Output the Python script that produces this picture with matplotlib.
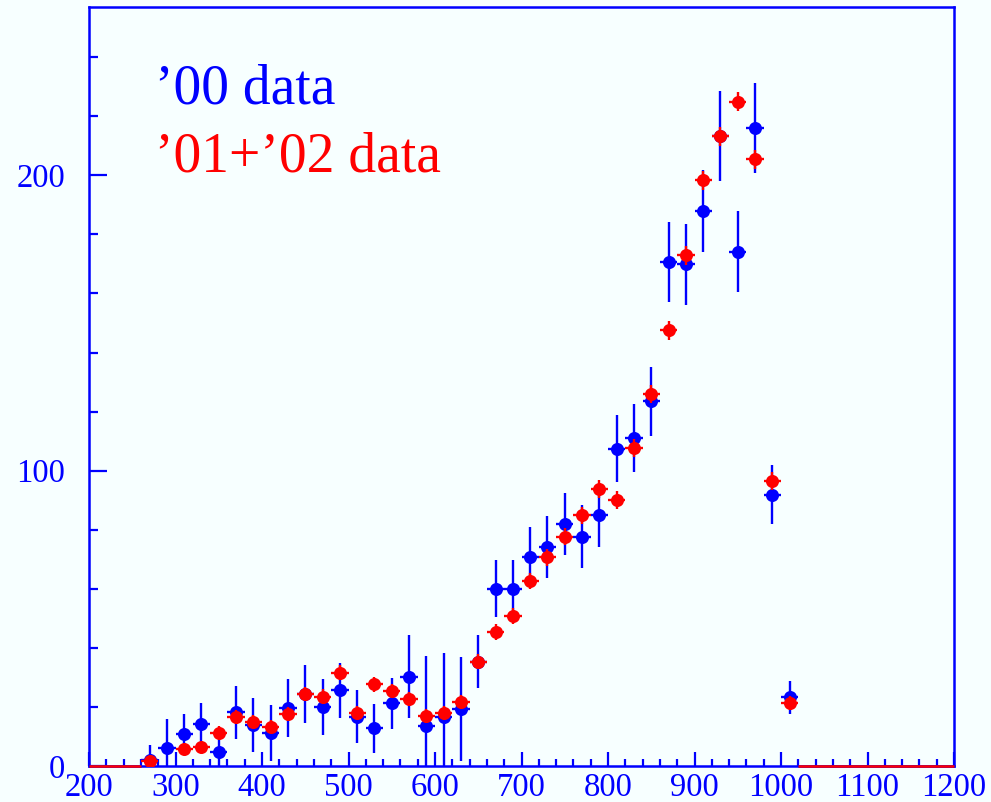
import numpy as np
import matplotlib
matplotlib.use("Agg")
import matplotlib.pyplot as plt
from matplotlib.ticker import MultipleLocator

# bin centres (20 wide) that carry entries
centres = np.arange(270, 1011, 20)

# '00 sample
blue_val = [2.0, 6.2, 10.8, 14.1, 4.8, 18.2, 13.9, 11.1, 19.5, 24.4,
            20.1, 25.7, 16.7, 12.7, 21.2, 30.2, 13.6, 16.7, 19.3, 35.3,
            60.1, 59.8, 70.8, 74.2, 82.1, 77.6, 84.9, 107.4, 111.1, 123.5,
            170.7, 169.9, 187.9, 213.2, 174.2, 216.1, 91.9, 23.2]
blue_err = [5.0, 9.7, 6.7, 7.3, 6.5, 8.9, 9.2, 9.5, 9.8, 9.8,
            9.5, 9.3, 9.0, 8.3, 8.7, 14.1, 23.6, 21.7, 17.5, 9.0,
            9.8, 10.0, 10.2, 10.4, 10.5, 10.7, 10.7, 11.3, 11.4, 11.6,
            13.5, 13.7, 13.8, 15.2, 13.6, 15.2, 10.0, 5.7]

# '01+'02 sample
red_val = [1.8, np.nan, 5.7, 6.3, 11.3, 16.7, 15.0, 13.3, 17.5, 24.4,
           23.5, 31.6, 18.0, 27.6, 25.4, 22.7, 17.0, 18.0, 21.8, 35.3,
           45.4, 50.8, 62.6, 70.6, 77.6, 84.9, 93.9, 90.0, 107.7, 125.9,
           147.5, 172.9, 198.3, 213.2, 225.0, 205.4, 96.5, 21.2]
red_err = [1.5, 0.0, 1.7, 1.8, 2.2, 2.4, 2.3, 2.2, 2.4, 2.5,
           2.5, 2.6, 2.3, 2.5, 2.5, 2.4, 2.3, 2.3, 2.4, 2.6,
           2.7, 2.7, 2.8, 2.8, 2.9, 2.9, 3.0, 3.0, 3.0, 3.1,
           3.1, 3.2, 3.2, 3.3, 3.3, 3.3, 3.0, 2.4]

half_bin = 10
x_lo, x_hi = 200, 1200

BG = "#f7ffff"
BLUE = "#0000ff"
RED = "#ff0000"

plt.rcParams["font.family"] = ["Liberation Serif", "DejaVu Serif"]

fig = plt.figure(figsize=(9.91, 8.02), dpi=100, facecolor=BG)
ax = fig.add_axes([89 / 991, 1 - 766 / 802, (954 - 89) / 991, (766 - 7) / 802])
ax.set_facecolor(BG)

# empty bins drawn as flat segments at zero
for col in (BLUE, RED):
    ax.hlines(0, x_lo, centres[0] - half_bin, color=col, lw=1.8, zorder=4,
              clip_on=False)
    ax.hlines(0, centres[-1] + half_bin, x_hi, color=col, lw=1.8, zorder=4,
              clip_on=False)

ax.errorbar(centres, blue_val, xerr=half_bin, yerr=blue_err, fmt="o",
            color=BLUE, ms=9.4, mew=0, elinewidth=1.7, capsize=0, zorder=3)
ax.errorbar(centres, red_val, xerr=half_bin, yerr=red_err, fmt="o",
            color=RED, ms=9.4, mew=0, elinewidth=1.7, capsize=0, zorder=5)

ax.set_xlim(x_lo, x_hi)
ax.set_ylim(0, 257)

ax.xaxis.set_major_locator(MultipleLocator(100))
ax.xaxis.set_minor_locator(MultipleLocator(20))
ax.yaxis.set_major_locator(MultipleLocator(100))
ax.yaxis.set_minor_locator(MultipleLocator(20))

ax.tick_params(axis="x", which="major", direction="in", length=10, width=1.6,
               color=BLUE, labelcolor=BLUE, labelsize=23.5, pad=5)
ax.tick_params(axis="x", which="minor", direction="in", length=5, width=1.6,
               color=BLUE)
ax.tick_params(axis="y", which="major", direction="in", length=12.7, width=1.6,
               color=BLUE, labelcolor=BLUE, labelsize=23.5, pad=17)
ax.tick_params(axis="y", which="minor", direction="in", length=6.5, width=1.6,
               color=BLUE)

for sp in ax.spines.values():
    sp.set_color(BLUE)
    sp.set_linewidth(1.8)

fig.text(155 / 991, 1 - 103 / 802, "\u201900 data", color=BLUE,
         fontsize=40, va="baseline", ha="left")
fig.text(155 / 991, 1 - 172 / 802, "\u201901+\u201902 data", color=RED,
         fontsize=40, va="baseline", ha="left")

fig.savefig("out.png", dpi=100, facecolor=BG)
